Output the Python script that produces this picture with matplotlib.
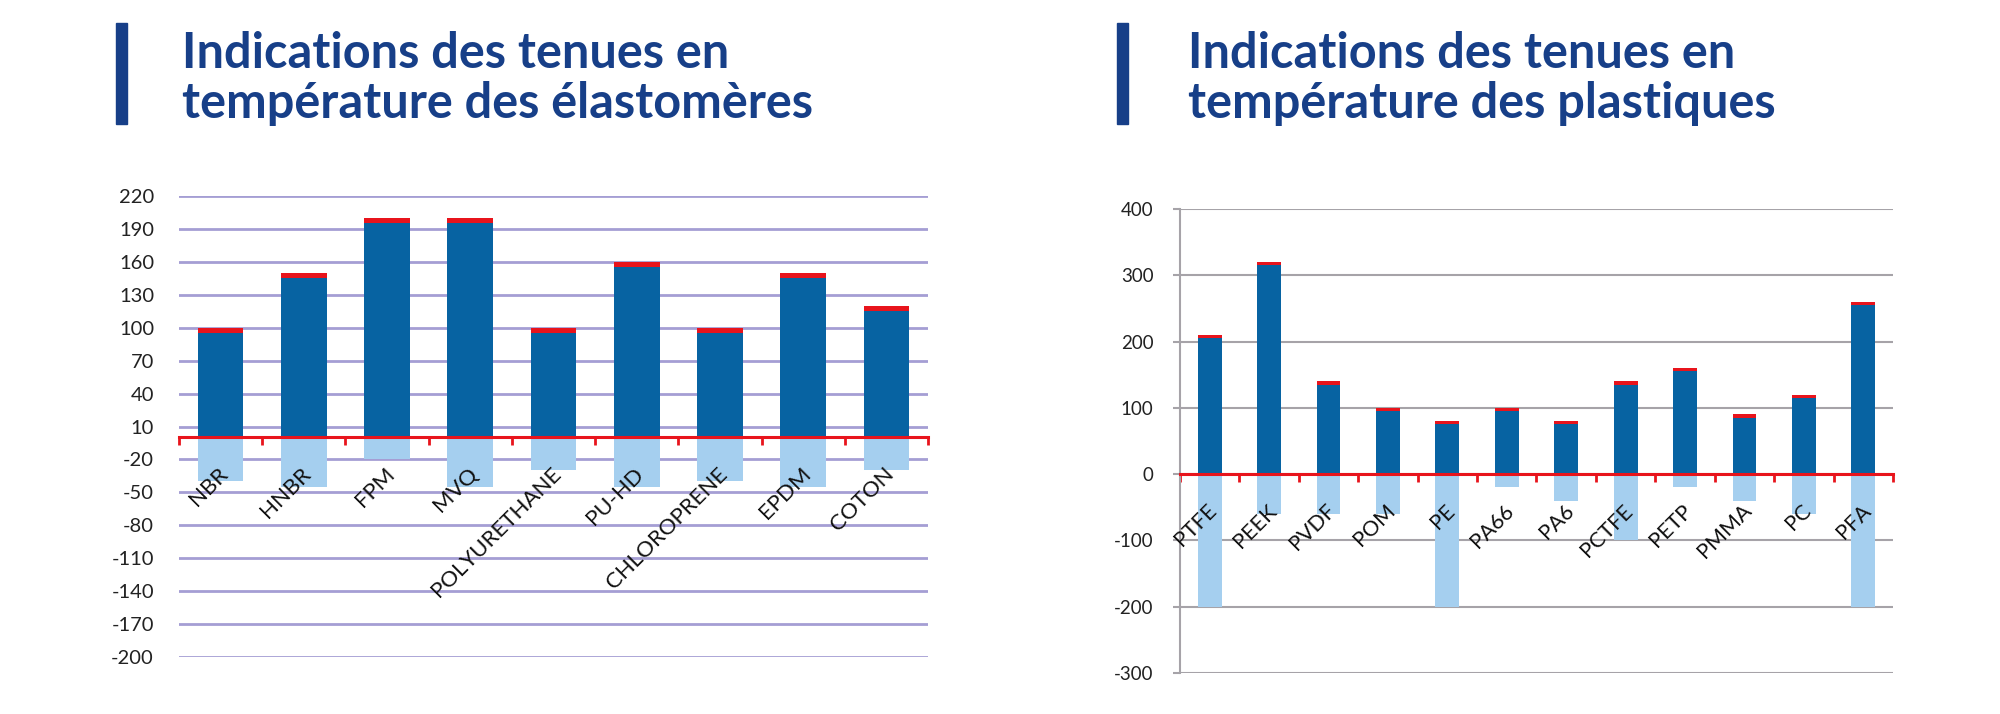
import matplotlib
matplotlib.use("Agg")
import matplotlib.pyplot as plt
import matplotlib.transforms as mtransforms
import numpy as np

# Data
elast_names = ['NBR', 'HNBR', 'FPM', 'MVQ', 'POLYURETHANE', 'PU-HD',
               'CHLOROPRENE', 'EPDM', 'COTON']
elast_cont = [95, 145, 195, 195, 95, 155, 95, 145, 115]
elast_pointe = [5, 5, 5, 5, 5, 5, 5, 5, 5]
elast_min = [-40, -45, -20, -45, -30, -45, -40, -45, -30]

plast_names = ['PTFE', 'PEEK', 'PVDF', 'POM', 'PE', 'PA66', 'PA6', 'PCTFE',
               'PETP', 'PMMA', 'PC', 'PFA']
plast_cont = [205, 315, 135, 95, 75, 95, 75, 135, 155, 85, 115, 255]
plast_pointe = [5, 5, 5, 5, 5, 5, 5, 5, 5, 5, 5, 5]
plast_min = [-200, -60, -60, -60, -200, -20, -40, -100, -20, -40, -60, -200]

elast_ticks = list(range(-200, 221, 30))
plast_ticks = [-300, -200, -100, 0, 100, 200, 300, 400]

titles = ['Indications des tenues en\ntempérature des élastomères',
          'Indications des tenues en\ntempérature des plastiques']

DARK = '#0763a2'
LIGHT = '#a5cfef'
RED = '#e8141c'
TITLE = '#173f88'
FONT = ['Lato', 'DejaVu Sans']

plt.rcParams['font.family'] = FONT

fig = plt.figure(figsize=(20, 7.14), dpi=100)


def draw(ax, names, cont, pointe, mins, ticks, width, grid_color, grid_lw,
         fs, lfs, label_dy, show_spine):
    x = np.arange(len(names))
    ax.bar(x, mins, width=width, color=LIGHT, zorder=2)
    ax.bar(x, cont, width=width, color=DARK, zorder=2)
    ax.bar(x, pointe, width=width, bottom=cont, color=RED, zorder=2)

    ax.set_xlim(-0.5, len(names) - 0.5)
    ax.set_ylim(ticks[0], ticks[-1])
    ax.set_yticks(ticks)
    ax.set_yticklabels([str(t) for t in ticks], fontsize=fs, color='#222222')
    ax.yaxis.grid(True, color=grid_color, lw=grid_lw, zorder=0)
    ax.set_axisbelow(True)

    for s in ['top', 'right']:
        ax.spines[s].set_visible(False)
    if show_spine:
        ax.spines['left'].set_color('#a6a3a8')
        ax.spines['left'].set_linewidth(1.5)
        ax.tick_params(axis='y', length=5, color='#a6a3a8', width=1.5, pad=14)
    else:
        ax.spines['left'].set_visible(False)
        ax.tick_params(axis='y', length=0, pad=18)

    # red axis at zero with ticks at category boundaries
    ax.spines['bottom'].set_position(('data', 0))
    ax.spines['bottom'].set_color(RED)
    ax.spines['bottom'].set_linewidth(2.2)
    ax.spines['bottom'].set_zorder(3)
    ax.set_xticks(np.arange(len(names) + 1) - 0.5)
    ax.set_xticklabels([])
    ax.tick_params(axis='x', direction='out', length=6, width=2, color=RED)

    off = mtransforms.ScaledTranslation(3 / 72, label_dy / 72, fig.dpi_scale_trans)
    for xi, name in zip(x, names):
        ax.text(xi, 0, name, rotation=45, rotation_mode='anchor',
                ha='right', va='center', fontsize=lfs, color='#111111',
                transform=ax.transData + off, zorder=4)


ax1 = fig.add_axes([0.0895, 0.0798, 0.3745, 0.6457])
draw(ax1, elast_names, elast_cont, elast_pointe, elast_min, elast_ticks,
     0.55, '#a59ed4', 2.0, 14.5, 16, -24, False)

ax2 = fig.add_axes([0.59, 0.0574, 0.3565, 0.6499])
draw(ax2, plast_names, plast_cont, plast_pointe, plast_min, plast_ticks,
     0.40, '#a6a3a8', 1.5, 13.5, 15.5, -24, True)

# titles with the vertical accent bar
for bx, tx, title in [(116, 182, titles[0]), (1117, 1188, titles[1])]:
    fig.patches.append(plt.Rectangle((bx / 2000, 1 - 124 / 714), 11 / 2000,
                                     101 / 714, transform=fig.transFigure,
                                     color=TITLE, figure=fig))
    fig.text(tx / 2000, 1 - 118 / 714, title, fontsize=35, fontweight='bold',
             color=TITLE, ha='left', va='baseline', linespacing=1.13)

fig.savefig('out.png', dpi=100)
